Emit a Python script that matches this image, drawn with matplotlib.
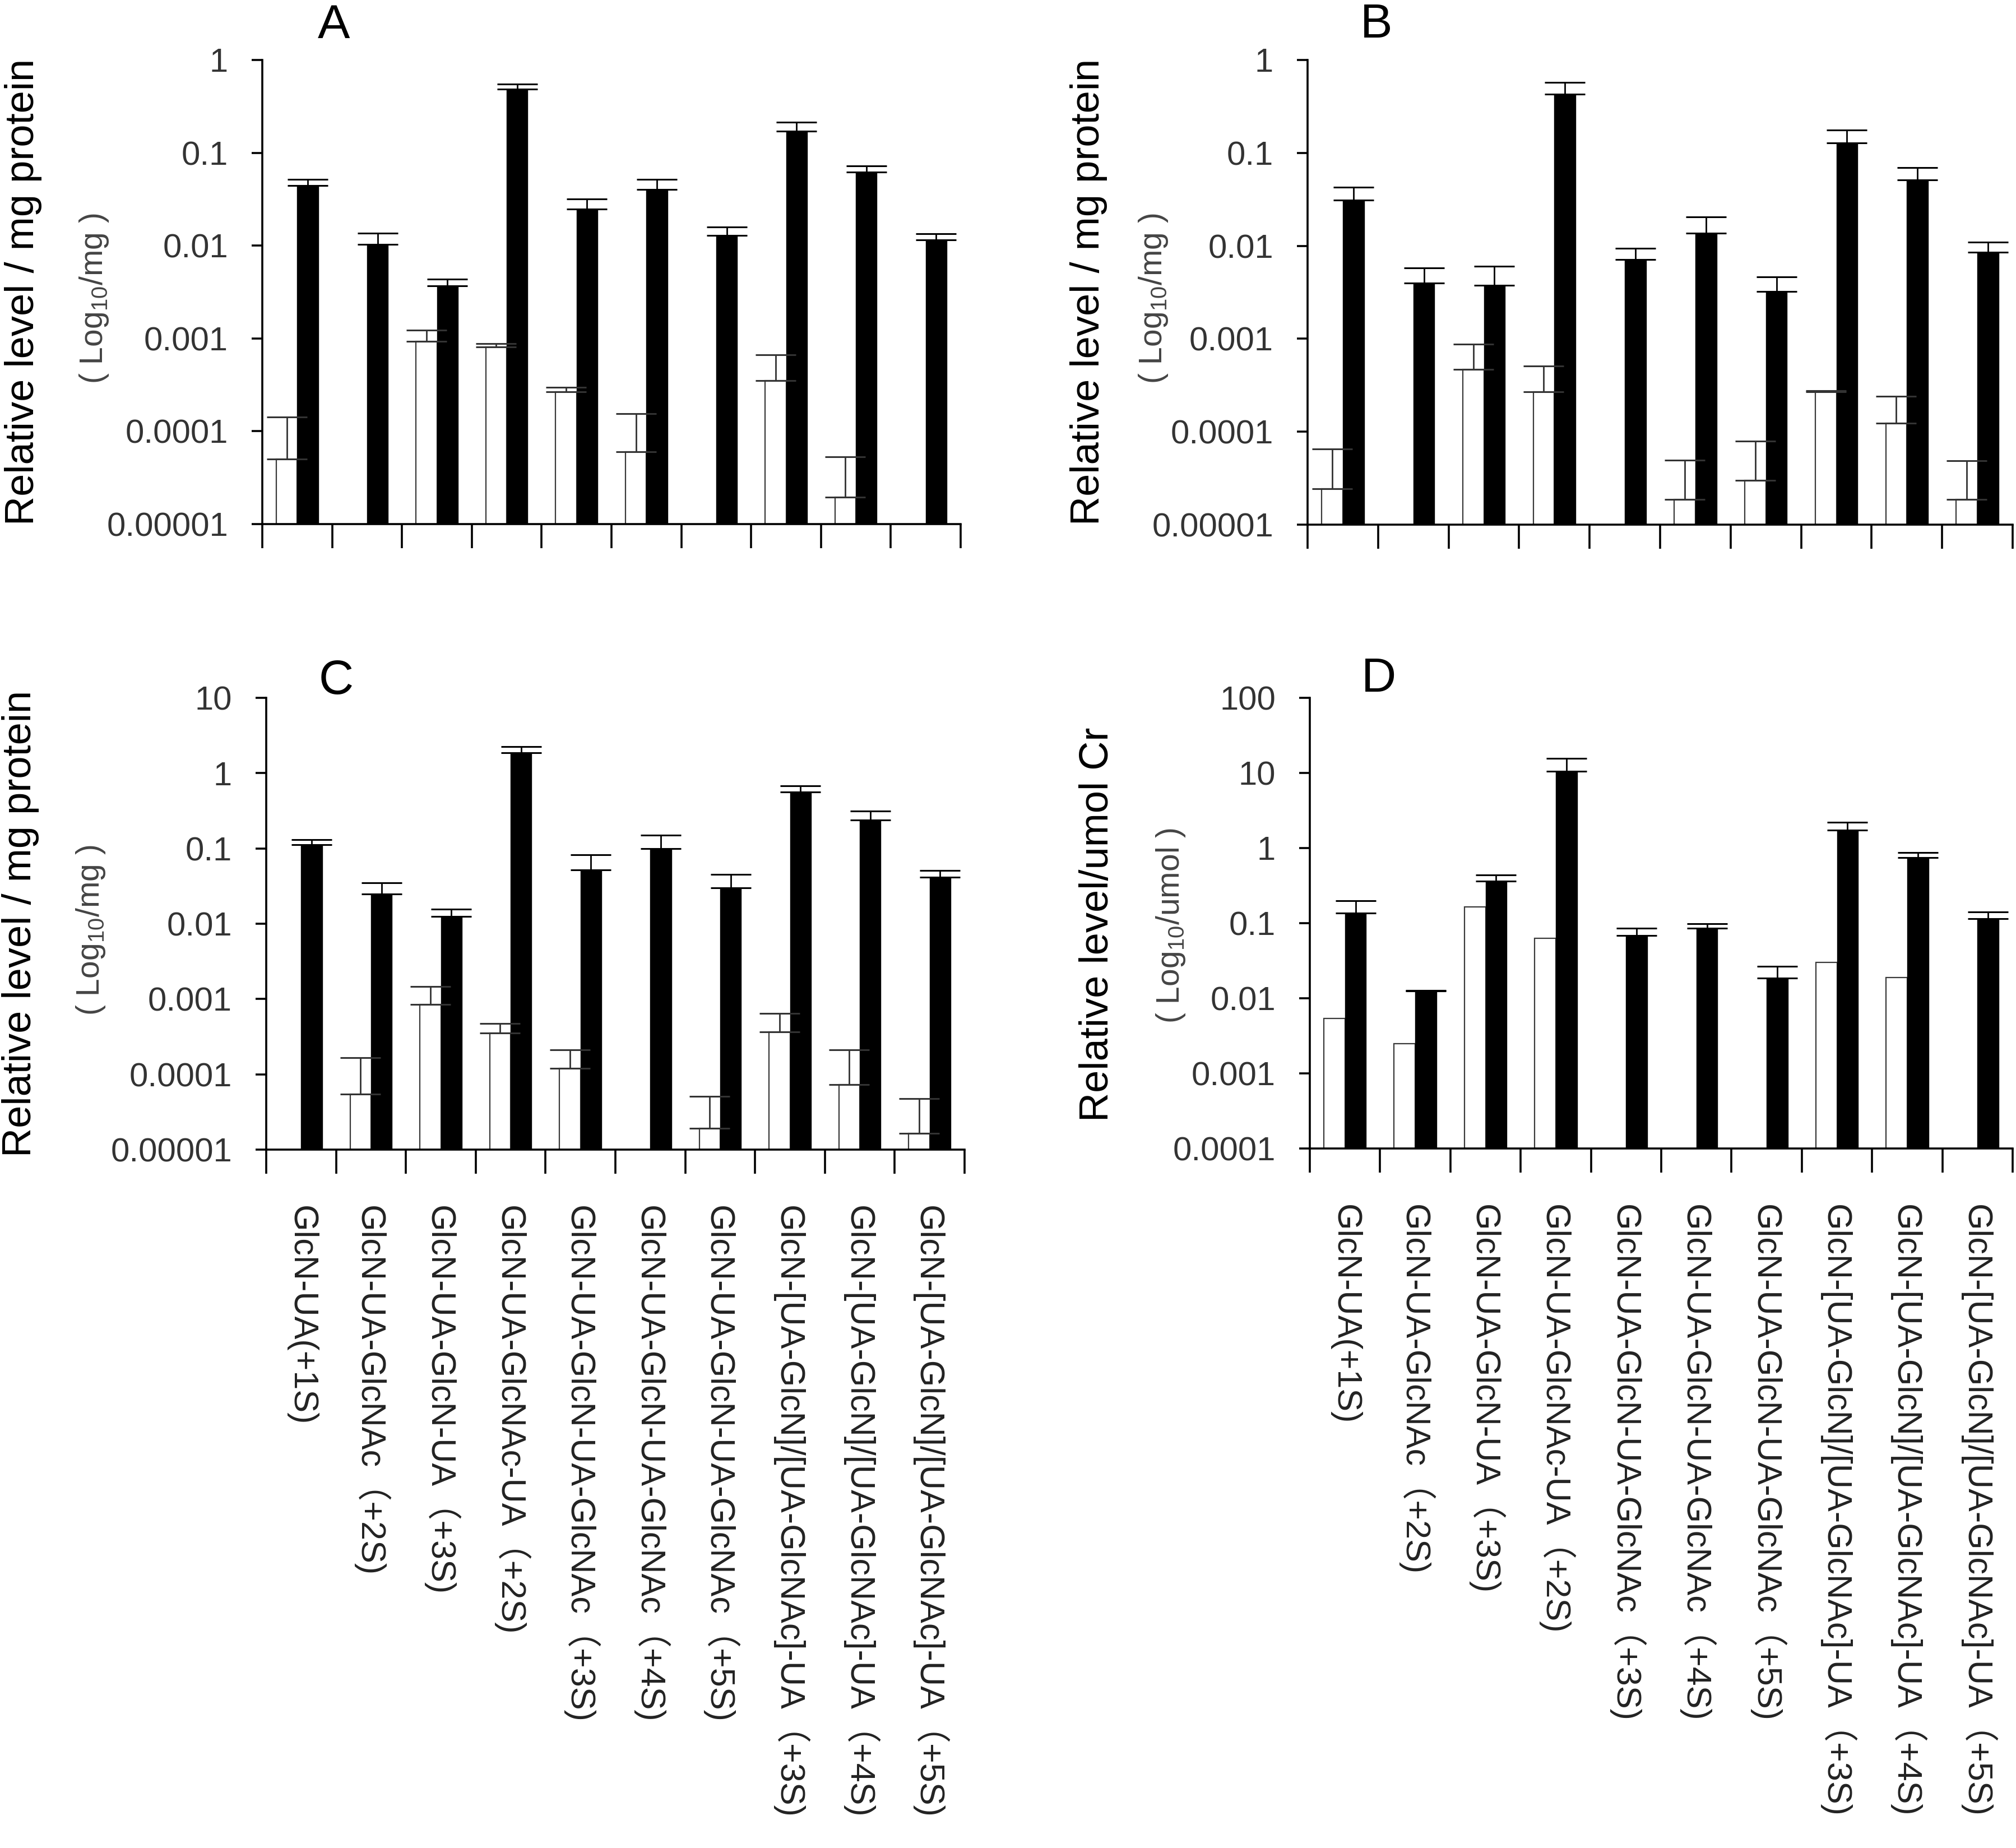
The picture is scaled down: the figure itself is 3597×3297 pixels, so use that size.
import numpy as np
import matplotlib
matplotlib.use("Agg")
import matplotlib.pyplot as plt
from matplotlib import font_manager as fm

# ---------------- data ----------------
categories = [
    "GlcN-UA(+1S)",
    "GlcN-UA-GlcNAc（+2S)",
    "GlcN-UA-GlcN-UA（+3S)",
    "GlcN-UA-GlcNAc-UA（+2S)",
    "GlcN-UA-GlcN-UA-GlcNAc（+3S)",
    "GlcN-UA-GlcN-UA-GlcNAc（+4S)",
    "GlcN-UA-GlcN-UA-GlcNAc（+5S)",
    "GlcN-[UA-GlcN]/[UA-GlcNAc]-UA（+3S)",
    "GlcN-[UA-GlcN]/[UA-GlcNAc]-UA（+4S)",
    "GlcN-[UA-GlcN]/[UA-GlcNAc]-UA（+5S)",
]
N = np.nan

# Panel A
a_white = [5.0e-5, N, 9.3e-4, 8.1e-4, 2.68e-4, 6.0e-5, N, 3.53e-4, 1.94e-5, N]
a_white_top = [1.42e-4, N, 1.22e-3, 8.85e-4, 2.96e-4, 1.55e-4, N, 6.67e-4, 5.3e-5, N]
a_black = [0.0445, 0.0103, 0.00367, 0.484, 0.0246, 0.040, 0.0129, 0.17, 0.0617, 0.0115]
a_black_top = [0.052, 0.0137, 0.00435, 0.553, 0.032, 0.052, 0.0158, 0.215, 0.0718, 0.0135]

# Panel B
b_white = [2.43e-5, N, 4.69e-4, 2.7e-4, N, 1.86e-5, 3.0e-5, 2.7e-4, 1.24e-4, 1.86e-5]
b_white_top = [6.5e-5, N, 8.73e-4, 5.1e-4, N, 4.95e-5, 7.9e-5, 2.75e-4, 2.4e-4, 4.9e-5]
b_black = [0.031, 0.00395, 0.00377, 0.426, 0.00716, 0.0137, 0.00322, 0.128, 0.051, 0.00855]
b_black_top = [0.043, 0.00578, 0.00605, 0.571, 0.00943, 0.0204, 0.00464, 0.177, 0.0696, 0.011]

# Panel C
c_white = [N, 5.47e-5, 8.47e-4, 3.55e-4, 1.2e-4, N, 1.92e-5, 3.63e-4, 7.3e-5, 1.65e-5]
c_white_top = [N, 1.66e-4, 1.46e-3, 4.76e-4, 2.13e-4, N, 5.1e-5, 6.46e-4, 2.13e-4, 4.74e-5]
c_black = [0.113, 0.0247, 0.0126, 1.85, 0.0518, 0.099, 0.030, 0.566, 0.237, 0.0416]
c_black_top = [0.130, 0.035, 0.0156, 2.25, 0.0817, 0.149, 0.045, 0.674, 0.311, 0.0506]

# Panel D
d_white = [0.00535, 0.00248, 0.164, 0.063, N, N, N, 0.030, 0.0189, N]
d_black = [0.136, 0.01245, 0.36, 10.6, 0.068, 0.085, 0.0187, 1.73, 0.743, 0.114]
d_black_top = [0.2, 0.0127, 0.44, 15.5, 0.085, 0.098, 0.0268, 2.2, 0.877, 0.142]

ab_ticks = [1e-5, 1e-4, 1e-3, 1e-2, 1e-1, 1]
ab_ticklabels = ["0.00001", "0.0001", "0.001", "0.01", "0.1", "1"]
c_ticks = [1e-5, 1e-4, 1e-3, 1e-2, 1e-1, 1, 10]
c_ticklabels = ["0.00001", "0.0001", "0.001", "0.01", "0.1", "1", "10"]
d_ticks = [1e-4, 1e-3, 1e-2, 1e-1, 1, 10, 100]
d_ticklabels = ["0.0001", "0.001", "0.01", "0.1", "1", "10", "100"]

ylabel_mg = "Relative level / mg protein"
ylabel_umol = "Relative level/umol Cr"
sub_mg = r"( Log$_{\mathregular{10}}$/mg )"
sub_umol = r"( Log$_{\mathregular{10}}$/umol )"
panel_titles = ["A", "B", "C", "D"]

# ---------------- style ----------------
W, H = 3597, 3297
plt.rcParams['font.family'] = ['Liberation Sans', 'DejaVu Sans']
plt.rcParams['mathtext.fontset'] = 'custom'
plt.rcParams['mathtext.rm'] = 'Liberation Sans'
plt.rcParams['mathtext.it'] = 'Liberation Sans'

def has_font(name):
    try:
        fm.findfont(fm.FontProperties(family=name), fallback_to_default=False)
        return True
    except Exception:
        return False

if has_font('Liberation Sans Narrow'):
    lab_family = ['Liberation Sans Narrow', 'Noto Sans CJK JP', 'DejaVu Sans']
    lab_size = 52
else:
    lab_family = ['Liberation Sans', 'Noto Sans CJK JP', 'DejaVu Sans']
    lab_size = 44

fig = plt.figure(figsize=(W / 100, H / 100), dpi=100)
fig.patch.set_facecolor('white')

def rect(x0, y_top, w, y_bot):
    return [x0 / W, 1 - y_bot / H, w / W, (y_bot - y_top) / H]

TICKCOL = '#333333'
LW = 2.6
BW = 0.30
CAP = 26

def panel(r, white, white_top, black, black_top, ylim, yt, ytl, show_labels):
    ax = fig.add_axes(r)
    ax.set_yscale('log')
    x = np.arange(len(categories)) + 0.5
    ymin = ylim[0]
    white = np.array(white, dtype=float)
    black = np.array(black, dtype=float)
    wm = ~np.isnan(white)
    ax.bar(x[wm] - BW / 2, white[wm] - ymin, bottom=ymin, width=BW,
           color='white', edgecolor='#3a3a3a', linewidth=1.6, zorder=2)
    ax.bar(x + BW / 2, black - ymin, bottom=ymin, width=BW,
           color='black', edgecolor='black', linewidth=1.0, zorder=2)
    if white_top is not None:
        wt = np.array(white_top, dtype=float)
        ax.errorbar(x[wm] - BW / 2, white[wm],
                    yerr=[np.zeros(wm.sum()), wt[wm] - white[wm]],
                    fmt='none', ecolor='#333333', elinewidth=2.0,
                    capsize=CAP, capthick=2.2, zorder=3)
    if black_top is not None:
        bt = np.array(black_top, dtype=float)
        ax.errorbar(x + BW / 2, black, yerr=[np.zeros(len(black)), bt - black],
                    fmt='none', ecolor='black', elinewidth=2.0,
                    capsize=CAP, capthick=2.2, zorder=3)
    ax.set_xlim(0, len(categories))
    ax.set_ylim(*ylim)
    ax.set_yticks(yt, ytl)
    ax.yaxis.set_minor_locator(matplotlib.ticker.NullLocator())
    ax.set_xticks(np.arange(len(categories) + 1))
    ax.set_xticklabels([])
    ax.tick_params(axis='x', which='major', length=31, width=LW, direction='out')
    ax.tick_params(axis='y', which='major', length=14, width=LW, direction='out',
                   labelsize=43, labelcolor=TICKCOL, pad=30)
    if show_labels:
        ax.set_xticks(x, minor=True)
        ax.set_xticklabels(categories, minor=True, rotation=270,
                           ha='center', va='top', family=lab_family,
                           fontsize=lab_size, color='#222222')
        ax.tick_params(axis='x', which='minor', length=0, pad=72)
    for s in ['top', 'right']:
        ax.spines[s].set_visible(False)
    for s in ['left', 'bottom']:
        ax.spines[s].set_linewidth(LW)
    return ax

axA = panel(rect(468, 107, 1246, 935), a_white, a_white_top, a_black, a_black_top,
            (1e-5, 1), ab_ticks, ab_ticklabels, False)
axB = panel(rect(2333, 107, 1258, 936), b_white, b_white_top, b_black, b_black_top,
            (1e-5, 1), ab_ticks, ab_ticklabels, False)
axC = panel(rect(475, 1245, 1246, 2051), c_white, c_white_top, c_black, c_black_top,
            (1e-5, 10), c_ticks, c_ticklabels, True)
axD = panel(rect(2337, 1245, 1254, 2049), d_white, None, d_black, d_black_top,
            (1e-4, 100), d_ticks, d_ticklabels, True)

def ftext(px, py, s, **kw):
    fig.text(px / W, 1 - py / H, s, **kw)

# panel letters
for (px, py), t in zip([(596, 46), (2456, 45), (600, 1216), (2460, 1212)], panel_titles):
    ftext(px, py, t, fontsize=62, ha='center', va='center', color='black')

SUBC = '#444444'
SUBS = 41
# y labels
ftext(42, 521, ylabel_mg, rotation=90, fontsize=52, ha='center', va='center')
ftext(168, 533, sub_mg, rotation=90, fontsize=SUBS, ha='center', va='center', color=SUBC)
ftext(1942, 521, ylabel_mg, rotation=90, fontsize=52, ha='center', va='center')
ftext(2058, 533, sub_mg, rotation=90, fontsize=SUBS, ha='center', va='center', color=SUBC)
ftext(37, 1648, ylabel_mg, rotation=90, fontsize=52, ha='center', va='center')
ftext(162, 1660, sub_mg, rotation=90, fontsize=SUBS, ha='center', va='center', color=SUBC)
ftext(1959, 1649, ylabel_umol, rotation=90, fontsize=52, ha='center', va='center')
ftext(2089, 1652, sub_umol, rotation=90, fontsize=SUBS, ha='center', va='center', color=SUBC)

fig.savefig('out.png', dpi=100, facecolor='white')
